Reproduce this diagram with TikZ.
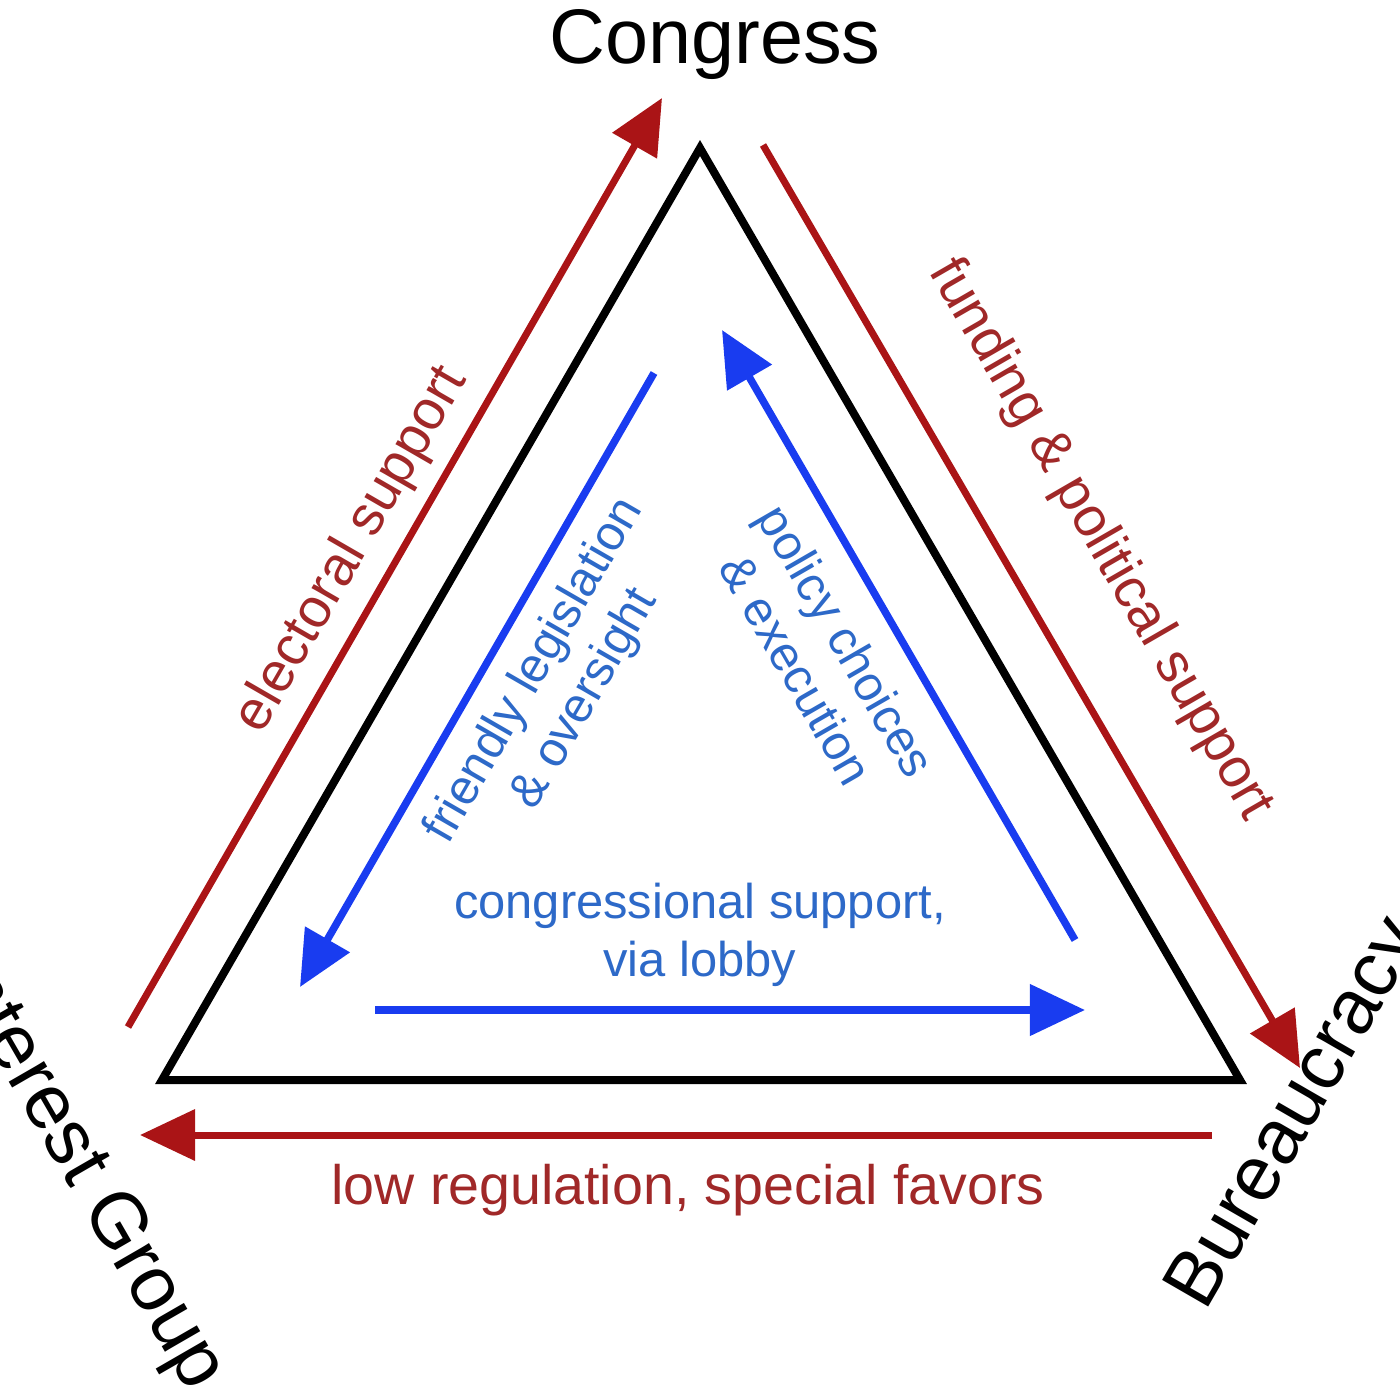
\documentclass[tikz,border=0pt]{standalone}
\usepackage{fontspec}
\setmainfont{Liberation Sans}
\usetikzlibrary{arrows.meta}
\definecolor{dred}{RGB}{170,20,22}
\definecolor{tred}{RGB}{160,40,40}
\definecolor{abl}{RGB}{25,60,240}
\definecolor{tbl}{RGB}{45,105,200}
\tikzset{
 redarr/.style={draw=dred,line width=0.07cm,-{Triangle[length=0.55cm,width=0.5cm]}},
 bluarr/.style={draw=abl,line width=0.075cm,-{Triangle[length=0.55cm,width=0.5cm]}},
 rlab/.style={text=tred,font=\fontsize{15.8}{18}\selectfont,align=center},
 blab/.style={text=tbl,font=\fontsize{13.9}{16.5}\selectfont,align=center},
 big/.style={font=\fontsize{22}{25}\selectfont}
}
\begin{document}
\begin{tikzpicture}[x=0.01cm,y=-0.01cm]
\useasboundingbox (0,0) rectangle (1400,1400);
\clip (0,0) rectangle (1400,1400);
\coordinate (A) at (700,148);
\coordinate (B) at (162,1080);
\coordinate (C) at (1240,1080);
\draw[line width=0.08cm,line join=miter] (A)--(B)--(C)--cycle;
\node[big] (cong) at (715,45) {Congress};
\node[big,rotate=60] (bur) at (1298,1115) {Bureaucracy};
\node[big,rotate=-60] (ig) at (82,1170) {Interest Group};
% red arrows
\coordinate (r1a) at (128,1027); \coordinate (r1b) at (662,98);
\coordinate (r2a) at (763,145); \coordinate (r2b) at (1300,1068);
\coordinate (r3a) at (1212,1135); \coordinate (r3b) at (140,1135);
\draw[redarr] (r1a)--(r1b);
\draw[redarr] (r2a)--(r2b);
\draw[redarr] (r3a)--(r3b);
% blue arrows
\coordinate (b1a) at (654,373); \coordinate (b1b) at (300,987);
\coordinate (b2a) at (1075,940); \coordinate (b2b) at (722,330);
\coordinate (b3a) at (375,1010); \coordinate (b3b) at (1085,1010);
\draw[bluarr] (b1a)--(b1b);
\draw[bluarr] (b2a)--(b2b);
\draw[bluarr] (b3a)--(b3b);
% labels
\node[rlab,rotate=60] (l1) at (352,550) {electoral support};
\node[rlab,rotate=-60] (l2) at (1100,540) {funding \& political support};
\node[rlab] (l3) at (688,1190) {low regulation, special favors};
\node[blab,rotate=60] (l4) at (560,685) {friendly legislation\\\& oversight};
\node[blab,rotate=-60] (l5) at (822,655) {policy choices\\\& execution};
\node[blab] (l6) at (700,935) {congressional support,\\via lobby};
\end{tikzpicture}
\end{document}
